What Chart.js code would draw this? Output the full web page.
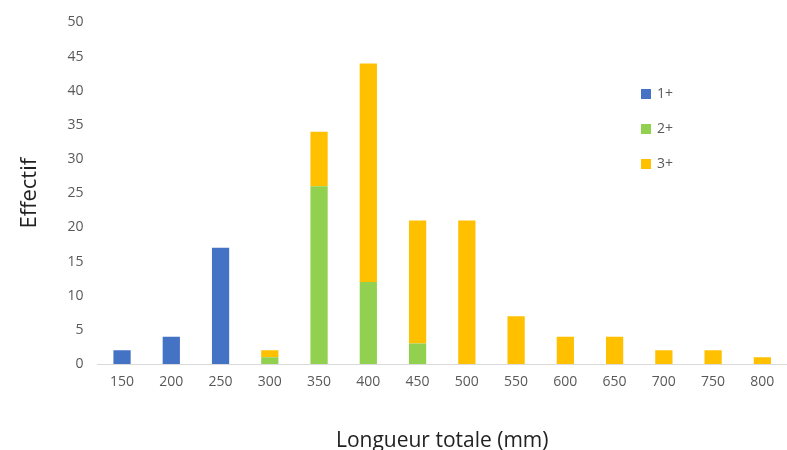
<!DOCTYPE html>
<html><head><meta charset="utf-8">
<script src="https://cdn.jsdelivr.net/npm/chart.js@4/dist/chart.umd.min.js"></script>
<style>html,body{margin:0;padding:0;background:#fff}#w{width:787px;height:450px}</style>
</head><body><div id="w"><canvas id="c"></canvas></div>
<script>
const categories = ['150','200','250','300','350','400','450','500','550','600','650','700','750','800'];
const s1 = [2,4,17,0,0,0,0,0,0,0,0,0,0,0];
const s2 = [0,0,0,1,26,12,3,0,0,0,0,0,0,0];
const s3 = [0,0,0,1,8,32,18,21,7,4,4,2,2,1];
const seriesNames = ['1+','2+','3+'];
const colors = ['#4472C4','#92D050','#FFC000'];
const FONT = "'Open Sans', sans-serif";
const legendPlugin = {
  id:'lg',
  afterDraw(ch){
    const c=ch.ctx; c.save();
    c.font="14px "+FONT; c.textBaseline='middle';
    seriesNames.forEach((n,i)=>{
      const y=94+i*35;
      c.fillStyle=colors[i]; c.fillRect(641,y-5,10,10);
      c.fillStyle='#595959'; c.fillText(n,657,y);
    });
    c.restore();
  }
};
new Chart(document.getElementById('c'),{
  type:'bar',
  data:{labels:categories,datasets:[s1,s2,s3].map((d,i)=>({label:seriesNames[i],data:d,backgroundColor:colors[i],barPercentage:0.35,categoryPercentage:1}))},
  options:{
    responsive:true,maintainAspectRatio:false,animation:false,
    layout:{padding:{left:13,right:-4,top:12,bottom:-8}},
    plugins:{legend:{display:false},tooltip:{enabled:false}},
    scales:{
      x:{stacked:true,grid:{display:false,drawTicks:false},border:{color:'#d9d9d9'},
        ticks:{color:'#595959',font:{family:FONT,size:14},padding:10},
        title:{display:true,text:'Longueur totale (mm)',color:'#222',font:{family:FONT,size:21},padding:{top:28}}},
      y:{stacked:true,min:0,max:50,grid:{display:false,drawTicks:false},border:{display:false},
        ticks:{stepSize:5,color:'#595959',font:{family:FONT,size:14},padding:14},
        title:{display:true,text:'Effectif',color:'#222',font:{family:FONT,size:22},padding:{bottom:10}}}
    }
  },
  plugins:[legendPlugin]
});
</script></body></html>
